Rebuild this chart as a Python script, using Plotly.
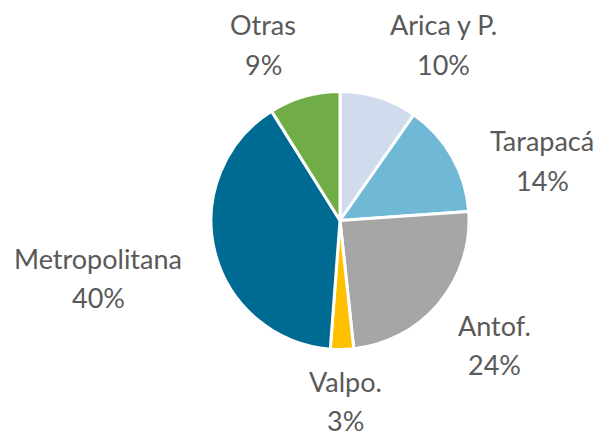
import plotly.graph_objects as go

regiones = ["Arica y P.", "Tarapacá", "Antof.", "Valpo.", "Metropolitana", "Otras"]
participacion = [9.7, 14.2, 24.4, 2.9, 39.9, 8.9]
colores = ["#d0dbee", "#6fb8d6", "#a6a6a6", "#ffc000", "#006b92", "#70ad47"]

# label centres (pixels in 599x438): name line, percent line below
pos_x = [443, 542, 494, 345, 98, 263]
pos_y = [25, 141, 325, 381, 258, 25]

W, H = 599, 438
cx, cy, r = 340, 220.5, 129

fig = go.Figure(
    go.Pie(
        labels=regiones,
        values=participacion,
        sort=False,
        direction="clockwise",
        rotation=0,
        textinfo="none",
        hoverinfo="label+percent",
        marker={"colors": colores, "line": {"color": "white", "width": 3}},
        domain={"x": [(cx - r) / W, (cx + r) / W], "y": [1 - (cy + r) / H, 1 - (cy - r) / H]},
        showlegend=False,
    )
)

total = sum(participacion)
font = {"family": "Lato, Open Sans, sans-serif", "size": 27, "color": "#595959"}
for name, v, x, y in zip(regiones, participacion, pos_x, pos_y):
    pct = f"{round(v / total * 100)}%"
    for txt, dy in ((name, 0), (pct, 39)):
        fig.add_annotation(
            x=x / W, y=1 - (y + dy) / H, xref="paper", yref="paper",
            text=txt, showarrow=False, xanchor="center", yanchor="middle",
            font=font, borderpad=0,
        )

fig.update_layout(
    width=W, height=H,
    margin={"l": 0, "r": 0, "t": 0, "b": 0},
    paper_bgcolor="white",
    plot_bgcolor="white",
)
fig.write_html(
    "out.html",
    config={"displayModeBar": False},
    post_script="document.body.style.margin='0';",
)
